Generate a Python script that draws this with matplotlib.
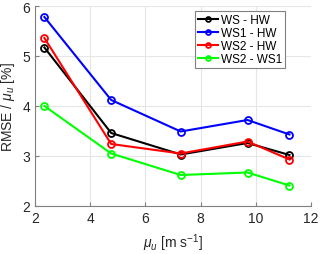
import matplotlib
matplotlib.use('Agg')
import matplotlib.pyplot as plt

plt.rcParams['font.family'] = ['Liberation Sans', 'DejaVu Sans']
plt.rcParams['mathtext.fontset'] = 'custom'
plt.rcParams['mathtext.it'] = 'Liberation Sans:italic'
plt.rcParams['mathtext.rm'] = 'Liberation Sans'

mu_u = [2.34, 4.76, 7.28, 9.70, 11.22]
ws_hw = [5.17, 3.46, 3.03, 3.26, 3.02]
ws1_hw = [5.78, 4.12, 3.49, 3.72, 3.43]
ws2_hw = [5.36, 3.24, 3.05, 3.29, 2.93]
ws2_ws1 = [4.00, 3.05, 2.62, 2.67, 2.41]

names = ['WS - HW', 'WS1 - HW', 'WS2 - HW', 'WS2 - WS1']
colors = ['black', 'blue', 'red', '#00ff00']
series = [ws_hw, ws1_hw, ws2_hw, ws2_ws1]

fig = plt.figure(figsize=(3.2, 2.55), dpi=100)
ax = fig.add_axes([35/320, 48/255, 276/320, 200/255])

for vals, c, n in zip(series, colors, names):
    ax.plot(mu_u, vals, '-o', color=c, lw=1.5, ms=5, mfc='none', mew=1.3, label=n)

ax.set_xlim(2, 12)
ax.set_ylim(2, 6)
ax.set_xticks([2, 4, 6, 8, 10, 12])
ax.set_yticks([2, 3, 4, 5, 6])
ax.grid(True, color='#e6e6e6', lw=0.8)
ax.set_axisbelow(True)
for s in ['top', 'right']:
    ax.spines[s].set_visible(False)
for s in ['left', 'bottom']:
    ax.spines[s].set_color('#808080')
ax.tick_params(direction='in', length=3, colors='#808080', labelcolor='#262626', labelsize=10)

ax.set_xlabel(r'$\mu_u$ [m s$^{\mathregular{-1}}$]', fontsize=10, color='#262626', labelpad=5)
ax.set_ylabel(r'RMSE / $\mu_u$ [%]', fontsize=10, color='#262626', labelpad=4)

leg = ax.legend(loc='upper right', bbox_to_anchor=(0.905, 0.975), fontsize=8.5, fancybox=False,
                handlelength=1.7, handletextpad=0.25, borderpad=0.25, labelspacing=0.1,
                borderaxespad=0.0, framealpha=1, markerscale=0.7)
leg.get_frame().set_edgecolor('#808080')
leg.get_frame().set_linewidth(0.8)

fig.savefig('out.png', dpi=100)
